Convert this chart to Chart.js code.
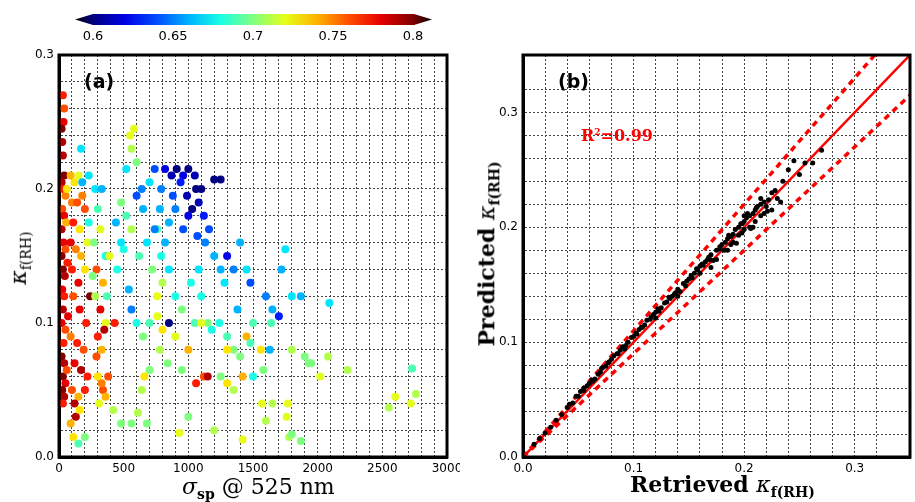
<!DOCTYPE html>
<html><head><meta charset="utf-8">
<script src="https://cdn.jsdelivr.net/npm/chart.js@4.4.0/dist/chart.umd.min.js"></script>
<style>
body{margin:0;background:#fff;width:915px;height:502px;position:relative;overflow:hidden;font-family:"DejaVu Sans",sans-serif}
canvas{position:absolute}
.t{position:absolute;white-space:nowrap}
.serif{font-family:"DejaVu Serif","Liberation Serif",serif}
</style></head><body>
<canvas id="ca" style="left:0;top:0" width="460" height="502"></canvas>
<canvas id="cb" style="left:460px;top:0" width="455" height="502"></canvas>
<div id="cbar" style="position:absolute;left:75px;top:14px;width:357px;height:11px"></div>
<div id="cbticks"></div>
<div class="t" style="left:84px;top:70px;font-weight:bold;font-size:19px">(a)</div>
<div class="t" style="left:558px;top:70px;font-weight:bold;font-size:19px">(b)</div>
<div class="t serif" style="left:581px;top:126px;font-weight:bold;font-size:16px;color:#f00">R<sup style="font-size:9px">2</sup>=0.99</div>
<div class="t serif" style="left:182px;top:474px;font-size:22px"><i>σ</i><sub style="font-weight:bold;font-size:14px">sp</sub> @ 525 nm</div>
<div class="t serif" style="left:630px;top:471px;font-size:22px;font-weight:bold">Retrieved <i style="font-weight:normal">κ</i><sub style="font-size:14px">f(RH)</sub></div>
<div class="t serif" style="left:20px;top:258px;font-size:22px;transform:translate(-50%,-50%) rotate(-90deg)"><i>κ</i><sub style="font-size:14px">f(RH)</sub></div>
<div class="t serif" style="left:488px;top:254px;font-size:22px;font-weight:bold;transform:translate(-50%,-50%) rotate(-90deg)">Predicted <i style="font-weight:normal">κ</i><sub style="font-size:14px">f(RH)</sub></div>
<script>
// Panel (a): scattering coefficient vs kappa, coloured by third variable
const aX = [30,40,35,20,25,30,40,20,30,50,25,40,20,35,50,20,30,45,25,40,30,20,50,35,20,40,30,50,25,40,30,60,55,60,65,70,
  90,120,150,100,140,180,110,160,200,90,130,170,220,100,150,200,240,110,160,210,90,140,190,120,170,220,100,150,200,130,90,110,150,200,120,160,230,180,230,170,
  280,300,330,270,320,360,290,340,280,320,360,300,350,290,330,300,340,360,310,330,380,260,370,390,
  430,450,500,480,520,550,560,580,520,600,440,480,560,600,640,650,700,540,560,600,650,700,620,680,720,760,700,660,420,480,560,610,640,680,760,790,800,740,790,780,740,820,760,800,780,840,
  820,870,910,960,1000,1050,1060,990,940,880,1030,1080,1100,1120,1000,960,1200,1250,900,850,1070,1130,1160,
  850,900,950,900,850,950,1000,1050,1020,1080,1100,1150,1180,1200,1250,1280,1300,1350,1400,1450,1480,1240,1300,1350,1400,1450,1480,1500,1120,1150,1060,1250,1300,1350,1420,1500,1420,1200,930,1000,1300,1100,1380,
  1570,1600,1630,1640,1650,1600,1650,1700,1720,1750,1800,1870,1900,1930,1950,1800,1760,1780,1800,1870,1770,2020,2080,2090,2230,2550,2600,2720,2730,2760,1560,1580];
const aY = [0.27,0.26,0.25,0.245,0.235,0.225,0.21,0.205,0.2,0.195,0.185,0.18,0.17,0.16,0.155,0.15,0.14,0.135,0.125,0.12,0.11,0.1,0.095,0.085,0.075,0.07,0.06,0.055,0.05,0.045,0.04,0.065,0.175,0.2,0.145,0.105,
  0.21,0.205,0.21,0.19,0.19,0.195,0.175,0.17,0.185,0.16,0.155,0.15,0.16,0.14,0.13,0.14,0.12,0.12,0.11,0.1,0.09,0.085,0.08,0.07,0.065,0.06,0.05,0.045,0.05,0.03,0.025,0.015,0.01,0.015,0.04,0.035,0.175,0.205,0.21,0.23,
  0.2,0.185,0.2,0.16,0.17,0.15,0.14,0.13,0.12,0.11,0.1,0.09,0.095,0.075,0.08,0.06,0.05,0.045,0.04,0.055,0.06,0.135,0.12,0.15,
  0.1,0.14,0.155,0.19,0.18,0.24,0.23,0.245,0.215,0.22,0.175,0.16,0.17,0.195,0.2,0.185,0.205,0.125,0.11,0.1,0.09,0.1,0.15,0.16,0.14,0.12,0.065,0.06,0.035,0.025,0.025,0.033,0.05,0.025,0.17,0.15,0.13,0.215,0.2,0.185,0.17,0.16,0.105,0.095,0.08,0.07,
  0.215,0.21,0.215,0.21,0.215,0.21,0.2,0.195,0.205,0.195,0.185,0.19,0.2,0.18,0.18,0.17,0.207,0.207,0.185,0.175,0.165,0.16,0.17,
  0.14,0.12,0.11,0.09,0.1,0.065,0.08,0.1,0.13,0.14,0.12,0.1,0.095,0.15,0.14,0.13,0.15,0.14,0.16,0.14,0.13,0.1,0.09,0.08,0.075,0.09,0.085,0.1,0.06,0.06,0.055,0.06,0.055,0.05,0.06,0.06,0.013,0.02,0.018,0.03,0.08,0.1,0.11,
  0.04,0.027,0.08,0.1,0.04,0.12,0.11,0.105,0.14,0.155,0.12,0.12,0.075,0.07,0.07,0.08,0.03,0.015,0.017,0.012,0.04,0.06,0.075,0.115,0.065,0.037,0.045,0.04,0.066,0.047,0.08,0.065];
const aC = [0.77,0.76,0.78,0.8,0.79,0.79,0.8,0.79,0.77,0.75,0.76,0.78,0.79,0.78,0.76,0.8,0.8,0.79,0.78,0.77,0.79,0.78,0.76,0.77,0.8,0.79,0.8,0.78,0.8,0.79,0.77,0.76,0.74,0.73,0.77,0.78,
  0.74,0.73,0.72,0.75,0.76,0.75,0.77,0.73,0.76,0.78,0.75,0.74,0.72,0.77,0.78,0.73,0.8,0.76,0.78,0.77,0.75,0.77,0.76,0.78,0.79,0.77,0.76,0.74,0.77,0.79,0.74,0.73,0.69,0.7,0.79,0.73,0.68,0.66,0.67,0.67,
  0.67,0.69,0.66,0.7,0.72,0.68,0.76,0.74,0.71,0.78,0.72,0.77,0.79,0.76,0.74,0.73,0.76,0.74,0.72,0.75,0.76,0.7,0.69,0.72,
  0.77,0.68,0.68,0.7,0.69,0.72,0.71,0.72,0.67,0.7,0.66,0.67,0.71,0.64,0.65,0.66,0.67,0.66,0.65,0.68,0.7,0.69,0.69,0.67,0.7,0.72,0.7,0.73,0.71,0.7,0.7,0.71,0.71,0.7,0.69,0.68,0.71,0.64,0.65,0.66,0.65,0.66,0.72,0.73,0.71,0.7,
  0.62,0.61,0.6,0.62,0.6,0.61,0.6,0.61,0.63,0.64,0.6,0.61,0.6,0.63,0.62,0.64,0.6,0.6,0.65,0.66,0.64,0.65,0.64,
  0.67,0.68,0.7,0.72,0.6,0.7,0.74,0.69,0.68,0.67,0.68,0.7,0.68,0.66,0.66,0.67,0.62,0.65,0.66,0.67,0.64,0.68,0.69,0.7,0.7,0.74,0.69,0.69,0.76,0.79,0.77,0.7,0.73,0.71,0.74,0.68,0.72,0.71,0.72,0.7,0.73,0.72,0.66,
  0.72,0.71,0.66,0.69,0.71,0.65,0.66,0.63,0.66,0.67,0.67,0.66,0.7,0.7,0.7,0.71,0.72,0.71,0.7,0.7,0.72,0.72,0.71,0.67,0.71,0.71,0.72,0.72,0.69,0.71,0.73,0.7];

// Panel (b): retrieved vs predicted kappa
const bX = [0.01,0.015,0.02,0.025,0.03,0.035,0.04,0.042,0.045,0.05,0.052,0.055,0.058,0.06,0.062,0.065,0.068,0.07,0.072,0.075,0.078,0.08,0.082,0.085,0.088,0.09,0.092,0.095,0.098,0.1,0.102,0.105,0.108,0.11,0.112,0.115,0.118,0.12,0.122,0.125,0.128,0.13,0.132,0.135,0.138,0.14,0.142,0.145,0.148,0.15,0.152,0.155,0.158,0.16,0.162,0.165,0.168,0.17,0.172,0.175,0.178,0.18,0.182,0.185,0.188,0.19,0.19,0.192,0.195,0.195,0.198,0.2,0.2,0.202,0.205,0.205,0.208,0.21,0.21,0.212,0.215,0.215,0.218,0.22,0.222,0.225,0.225,0.228,0.23,0.235,0.24,0.245,0.25,0.255,0.262,0.27,0.233,0.2,0.185,0.17,0.16,0.14,0.12,0.175,0.188,0.198,0.208,0.218,
  0.048,0.063,0.077,0.093,0.107,0.123,0.137,0.153,0.167,0.183,0.197,0.211,0.206,0.193,0.178,0.163,0.147,0.133,0.116,0.103,0.086,0.071,0.055,0.215,0.221,0.203,0.186,0.169,0.157];
const bY = [0.011,0.016,0.021,0.026,0.032,0.037,0.043,0.046,0.047,0.053,0.057,0.058,0.062,0.064,0.067,0.068,0.072,0.074,0.078,0.079,0.083,0.085,0.088,0.09,0.093,0.096,0.094,0.1,0.104,0.105,0.108,0.111,0.113,0.115,0.119,0.12,0.124,0.126,0.129,0.13,0.134,0.135,0.139,0.14,0.143,0.146,0.144,0.151,0.153,0.155,0.158,0.16,0.163,0.166,0.168,0.17,0.174,0.176,0.171,0.18,0.183,0.185,0.18,0.19,0.192,0.194,0.187,0.198,0.2,0.193,0.203,0.205,0.198,0.208,0.21,0.2,0.212,0.215,0.205,0.218,0.22,0.21,0.222,0.218,0.224,0.215,0.23,0.232,0.225,0.24,0.25,0.258,0.246,0.256,0.256,0.267,0.222,0.21,0.18,0.165,0.16,0.14,0.121,0.172,0.185,0.195,0.2,0.212,
  0.053,0.066,0.082,0.097,0.113,0.127,0.142,0.156,0.172,0.187,0.203,0.217,0.199,0.186,0.181,0.167,0.149,0.138,0.122,0.107,0.09,0.077,0.06,0.225,0.214,0.212,0.193,0.172,0.164];
const lineX = [0, 0.35];
const fitY = [0, 0.35];
const upperY = [0, 0.385];
const lowerY = [0, 0.315];

// colour bar ticks
const cbTicks = [0.6, 0.65, 0.7, 0.75, 0.8];
const cMin = 0.6, cMax = 0.8;

function jet(v) {
  const t = Math.min(1, Math.max(0, (v - cMin) / (cMax - cMin)));
  const f = x => Math.round(255 * Math.min(1, Math.max(0, 1.5 - Math.abs(4 * t - x))));
  return `rgb(${f(3)},${f(2)},${f(1)})`;
}

// colour bar with triangular ends
const stops = [];
for (let i = 0; i <= 10; i++) stops.push(`${jet(cMin + i / 10 * (cMax - cMin))} ${(18 + i / 10 * 320) / 357 * 100}%`);
const cbar = document.getElementById('cbar');
cbar.style.background = `linear-gradient(to right, #000 0%, ${stops.join(',')}, #000 100%)`;
cbar.style.clipPath = 'polygon(0 50%, 18px 0, 339px 0, 100% 50%, 339px 100%, 18px 100%)';
const cbticks = document.getElementById('cbticks');
cbTicks.forEach(v => {
  const d = document.createElement('div');
  d.className = 't';
  d.style.cssText = `left:${93 + (v - cMin) / (cMax - cMin) * 320}px;top:28px;font-size:13px;transform:translateX(-50%)`;
  d.textContent = String(v);
  cbticks.appendChild(d);
});

const frame = {
  id: 'frame',
  afterDraw(chart) {
    const a = chart.chartArea, c = chart.ctx;
    c.save(); c.strokeStyle = '#000'; c.lineWidth = 3;
    c.strokeRect(a.left, a.top, a.right - a.left, a.bottom - a.top);
    c.restore();
  }
};

function axis(min, max, step, major, fmt, extra) {
  return Object.assign({
    type: 'linear', min, max,
    grid: { color: '#444', lineWidth: 1, drawTicks: false },
    border: { display: true, color: '#000', width: 3, dash: [2, 2] },
    ticks: {
      stepSize: step, padding: 5, color: '#000', autoSkip: false, maxRotation: 0, minRotation: 0,
      font: { family: 'DejaVu Sans', size: 12 },
      callback: v => Math.abs(v / major - Math.round(v / major)) < 1e-6 ? fmt(v) : ''
    }
  }, extra);
}

Chart.defaults.animation = false;

new Chart(document.getElementById('ca'), {
  type: 'scatter',
  data: { datasets: [{
    data: aX.map((x, i) => ({ x, y: aY[i] })),
    pointRadius: 4, pointBorderWidth: 0,
    pointBackgroundColor: aC.map(jet)
  }] },
  options: {
    responsive: false,
    layout: { padding: { top: 55, right: 13, left: 0, bottom: 0 } },
    plugins: { legend: { display: false }, tooltip: { enabled: false } },
    scales: {
      x: axis(0, 3000, 100, 500, v => String(v), { afterFit: s => { s.height = 45; s.paddingRight = 0; } }),
      y: axis(0, 0.3, 0.02, 0.1, v => v.toFixed(1), { afterFit: s => { s.width = 59; } })
    }
  },
  plugins: [frame]
});

new Chart(document.getElementById('cb'), {
  type: 'scatter',
  data: { datasets: [
    { data: bX.map((x, i) => ({ x, y: bY[i] })), pointRadius: 2.5, pointBorderWidth: 0, pointBackgroundColor: '#000' },
    { type: 'line', data: lineX.map((x, i) => ({ x, y: upperY[i] })), borderColor: '#f00', borderWidth: 3.5, borderDash: [6, 5], pointRadius: 0 },
    { type: 'line', data: lineX.map((x, i) => ({ x, y: lowerY[i] })), borderColor: '#f00', borderWidth: 3.5, borderDash: [6, 5], pointRadius: 0 },
    { type: 'line', data: lineX.map((x, i) => ({ x, y: fitY[i] })), borderColor: '#f00', borderWidth: 2.5, pointRadius: 0 }
  ] },
  options: {
    responsive: false,
    layout: { padding: { top: 55, right: 1, left: 0, bottom: 0 } },
    plugins: { legend: { display: false }, tooltip: { enabled: false } },
    scales: {
      x: axis(0, 0.35, 0.02, 0.1, v => v.toFixed(1), { afterFit: s => { s.height = 45; } }),
      y: axis(0, 0.35, 0.02, 0.1, v => v.toFixed(1), { afterFit: s => { s.width = 63; } })
    }
  },
  plugins: [frame]
});
</script>
</body></html>
